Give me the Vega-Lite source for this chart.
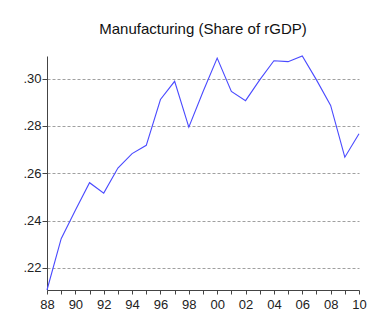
{
  "$schema": "https://vega.github.io/schema/vega-lite/v6.json",
  "width": 312,
  "height": 234,
  "autosize": {"type": "none"},
  "padding": {"left": 47, "top": 56, "right": 29, "bottom": 40},
  "background": "white",
  "title": {
    "text": "Manufacturing (Share of rGDP)",
    "font": "Liberation Sans",
    "fontSize": 15,
    "fontWeight": "normal",
    "color": "#111",
    "anchor": "middle",
    "offset": 17
  },
  "config": {
    "view": {"stroke": null},
    "axis": {"labelFont": "Liberation Sans", "labelFontSize": 13, "labelColor": "#222"}
  },
  "data": {
    "values": [
      {"year": 1988, "share": 0.2106},
      {"year": 1989, "share": 0.2323},
      {"year": 1990, "share": 0.2443},
      {"year": 1991, "share": 0.2560},
      {"year": 1992, "share": 0.2516},
      {"year": 1993, "share": 0.2622},
      {"year": 1994, "share": 0.2683},
      {"year": 1995, "share": 0.2718},
      {"year": 1996, "share": 0.2912},
      {"year": 1997, "share": 0.2989},
      {"year": 1998, "share": 0.2795},
      {"year": 1999, "share": 0.2945},
      {"year": 2000, "share": 0.3087},
      {"year": 2001, "share": 0.2946},
      {"year": 2002, "share": 0.2907},
      {"year": 2003, "share": 0.2995},
      {"year": 2004, "share": 0.3076},
      {"year": 2005, "share": 0.3072},
      {"year": 2006, "share": 0.3096},
      {"year": 2007, "share": 0.2995},
      {"year": 2008, "share": 0.2887},
      {"year": 2009, "share": 0.2668},
      {"year": 2010, "share": 0.2767}
    ]
  },
  "mark": {"type": "line", "color": "#4a4aff", "strokeWidth": 1.1},
  "encoding": {
    "x": {
      "field": "year",
      "type": "quantitative",
      "scale": {"domain": [1988, 2010], "nice": false, "zero": false},
      "axis": {
        "title": null,
        "grid": false,
        "values": [1988,1989,1990,1991,1992,1993,1994,1995,1996,1997,1998,1999,2000,2001,2002,2003,2004,2005,2006,2007,2008,2009,2010],
        "labelExpr": "datum.value % 2 == 0 ? substring(toString(datum.value), 2) : ''",
        "labelOverlap": false,
        "labelFlush": false,
        "tickSize": 4,
        "tickColor": "#444",
        "domainColor": "#444",
        "labelPadding": 4
      }
    },
    "y": {
      "field": "share",
      "type": "quantitative",
      "scale": {"domain": [0.2106, 0.3096], "nice": false, "zero": false},
      "axis": {
        "title": null,
        "values": [0.22, 0.24, 0.26, 0.28, 0.30],
        "labelExpr": "substring(format(datum.value, '.2f'), 1)",
        "grid": true,
        "gridColor": "#a0a0a0",
        "gridDash": [3, 2],
        "tickSize": 5,
        "tickColor": "#444",
        "domainColor": "#444",
        "labelPadding": 1,
        "labelFlush": false
      }
    }
  }
}
